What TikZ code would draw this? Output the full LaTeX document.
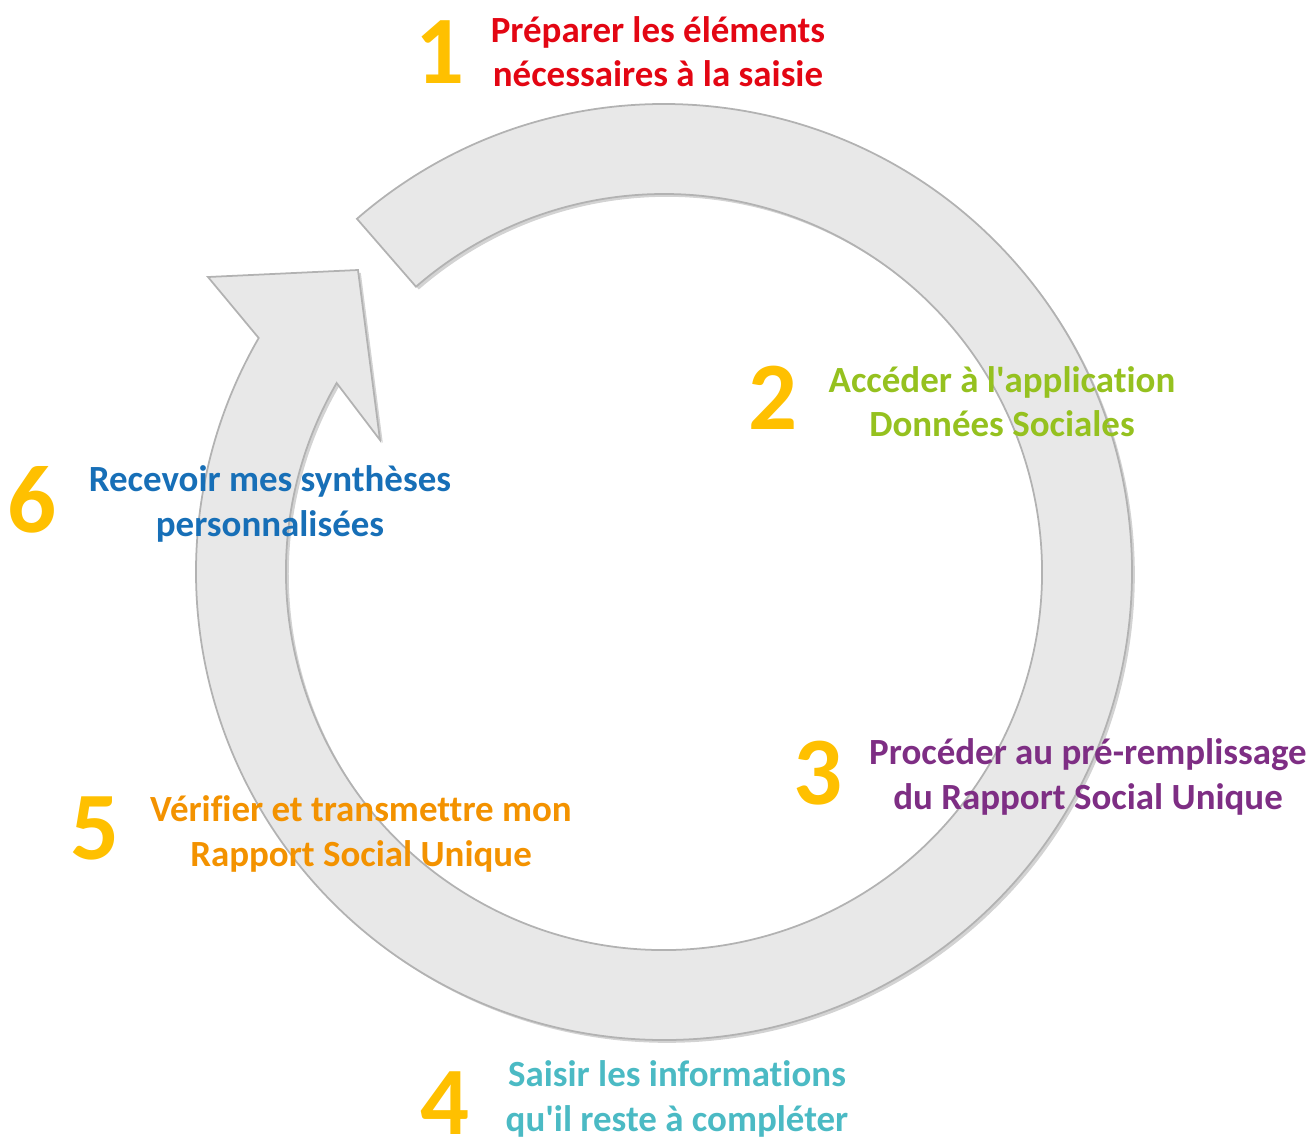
\documentclass[tikz,border=0pt]{standalone}
\usepackage{fontspec}
\setmainfont{Carlito}[Ligatures=NoCommon]
\usetikzlibrary{shadows}

\definecolor{numgold}{RGB}{255,192,0}
\definecolor{stepred}{RGB}{227,6,19}
\definecolor{stepgreen}{RGB}{149,193,31}
\definecolor{steppurple}{RGB}{126,46,132}
\definecolor{stepteal}{RGB}{75,186,196}
\definecolor{steporange}{RGB}{243,146,0}
\definecolor{stepblue}{RGB}{23,111,183}

\tikzset{
  num/.style={font=\fontsize{27.5}{30}\selectfont\bfseries, text=numgold, inner sep=0pt},
  steptext/.style={font=\fontsize{10.5}{12.6}\selectfont\bfseries, align=center, inner sep=0pt},
  ring/.style={fill=gray!18, draw=gray!60, line width=0.5pt,
    drop shadow={opacity=0.35, shadow xshift=0.8pt, shadow yshift=-0.8pt}}
}

\begin{document}
\begin{tikzpicture}[x=0.01cm, y=0.01cm]
    \useasboundingbox (-664,572) rectangle (649,-564);

    % circular arrow
    \draw[ring] (131:468) arc[start angle=131, end angle=-210, radius=468]
        -- (-456,295) -- (-306,302) -- (-284,132) -- (-210:378)
        arc[start angle=-210, end angle=131, radius=378] -- cycle;

    % steps
    \node[num] (n1) at (-224, 520) {1};
    \node[steptext, text=stepred] (t1) at (-6, 520) {Préparer les éléments\\nécessaires à la saisie};

    \node[num] (n2) at (109, 174) {2};
    \node[steptext, text=stepgreen] (t2) at (338, 170) {Accéder à l\textquotesingle application\\Données Sociales};

    \node[num] (n3) at (154, -201) {3};
    \node[steptext, text=steppurple] (t3) at (424, -205) {Procéder au pré-remplissage\\du Rapport Social Unique};

    \node[num] (n4) at (-219, -531) {4};
    \node[steptext, text=stepteal] (t4) at (13, -527) {Saisir les informations\\qu\textquotesingle il reste à compléter};

    \node[num] (n5) at (-569, -256) {5};
    \node[steptext, text=steporange] (t5) at (-303, -262) {Vérifier et transmettre mon\\Rapport Social Unique};

    \node[num] (n6) at (-632, 72) {6};
    \node[steptext, text=stepblue] (t6) at (-394, 68) {Recevoir mes synthèses\\personnalisées};
\end{tikzpicture}
\end{document}
